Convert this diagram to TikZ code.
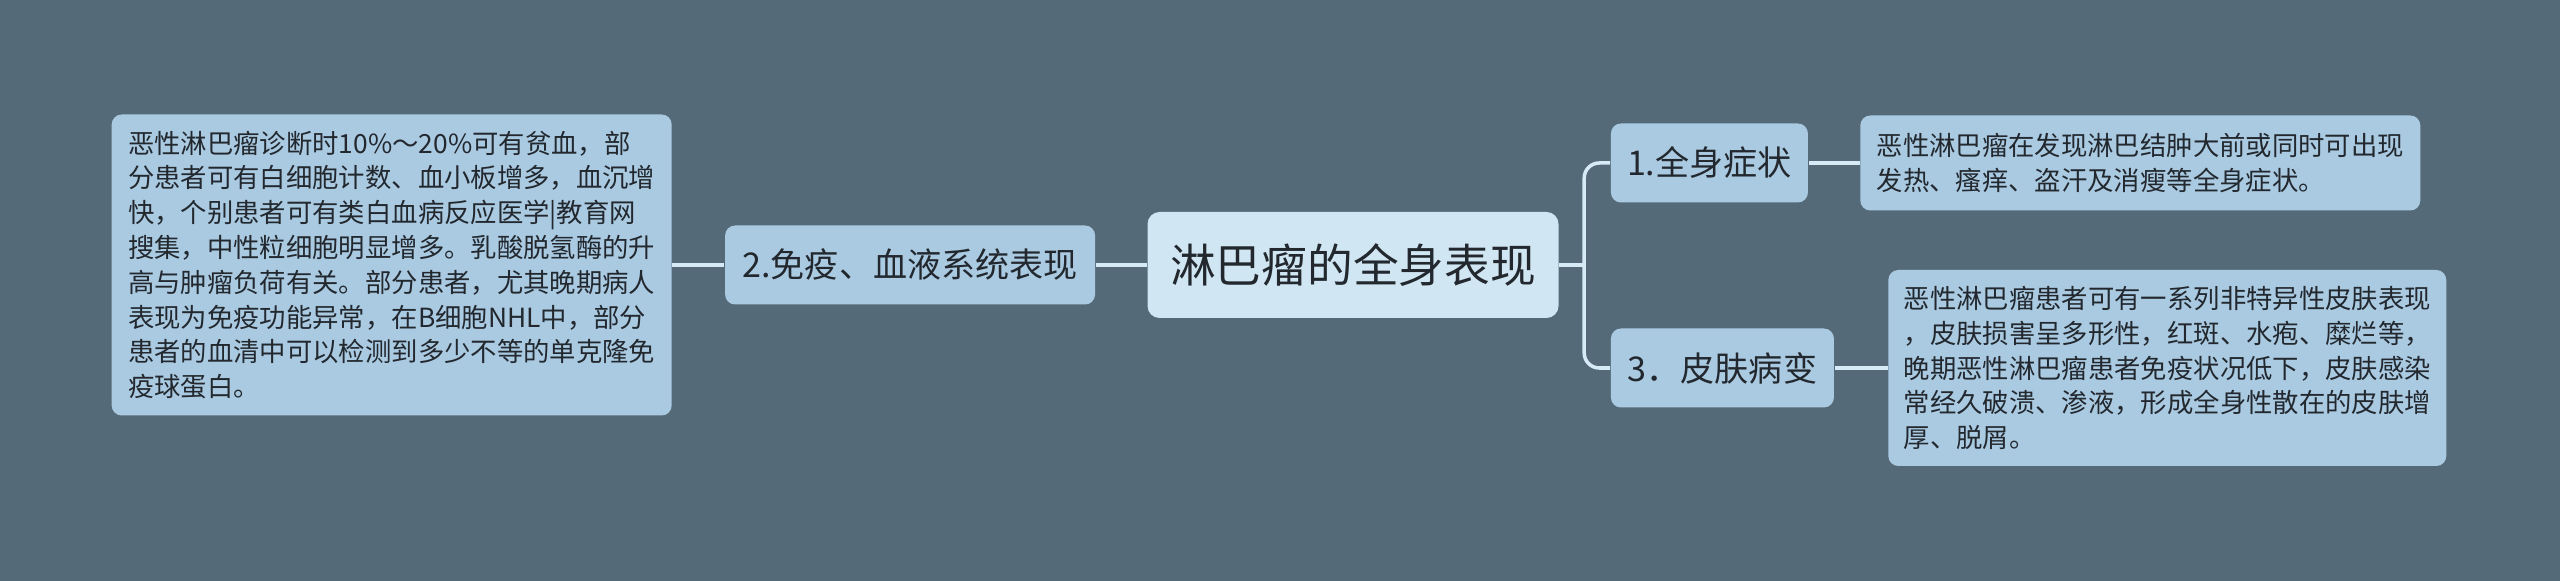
\documentclass[tikz,border=0pt]{standalone}
\usepackage{fontspec}
\setmainfont{Noto Sans CJK SC}
\usepackage{tikz}
\usetikzlibrary{positioning}
\definecolor{bgcol}{RGB}{85,106,120}
\definecolor{rootcol}{RGB}{208,230,242}
\definecolor{topiccol}{RGB}{170,202,226}
\definecolor{linkcol}{RGB}{214,235,246}
\definecolor{txtcol}{RGB}{34,40,46}

\begin{document}
\begin{tikzpicture}[
	root/.style={rectangle, rounded corners=0.12cm, fill=rootcol, text=txtcol,
		font=\fontsize{13}{16}\selectfont, minimum width=4.11cm, minimum height=1.06cm},
	topic/.style={rectangle, rounded corners=0.1cm, fill=topiccol, text=txtcol,
		font=\fontsize{9.7}{12}\selectfont, minimum height=0.79cm, inner xsep=0.1cm},
	leaf/.style={rectangle, rounded corners=0.1cm, fill=topiccol, text=txtcol, align=left,
		font=\fontsize{7.5}{9.9}\selectfont, inner xsep=0.12cm, inner ysep=0.08cm},
	link/.style={draw=linkcol, line width=1pt}]

	\useasboundingbox[fill=bgcol] (0,0) rectangle (25.6,-5.81);

	\node [root] (root) at (13.53,-2.65) {淋巴瘤的全身表现};

	% left branch
	\node [topic, minimum width=3.7cm, left=0.51cm of root] (immune) {2.免疫、血液系统表现};
	\node [leaf, minimum width=5.6cm, minimum height=3.01cm, left=0.52cm of immune] (immunetxt)
		{恶性淋巴瘤诊断时10\%～20\%可有贫血，部\\
		 分患者可有白细胞计数、血小板增多，血沉增\\
		 快，个别患者可有类白血病反应医学|教育网\\
		 搜集，中性粒细胞明显增多。乳酸脱氢酶的升\\
		 高与肿瘤负荷有关。部分患者，尤其晚期病人\\
		 表现为免疫功能异常，在B细胞NHL中，部分\\
		 患者的血清中可以检测到多少不等的单克隆免\\
		 疫球蛋白。};

	% right branch
	\coordinate [right=0.25cm of root] (fork);
	\node [topic, minimum width=1.97cm, right=0.51cm of root, yshift=1.02cm] (general) {1.全身症状};
	\node [leaf, minimum width=5.6cm, minimum height=0.95cm, right=0.51cm of general] (generaltxt)
		{恶性淋巴瘤在发现淋巴结肿大前或同时可出现\\
		 发热、瘙痒、盗汗及消瘦等全身症状。};
	\node [topic, minimum width=2.23cm, right=0.51cm of root, yshift=-1.03cm] (skin) {3．皮肤病变};
	\node [leaf, minimum width=5.58cm, minimum height=1.96cm, right=0.53cm of skin] (skintxt)
		{恶性淋巴瘤患者可有一系列非特异性皮肤表现\\
		 ，皮肤损害呈多形性，红斑、水疱、糜烂等，\\
		 晚期恶性淋巴瘤患者免疫状况低下，皮肤感染\\
		 常经久破溃、渗液，形成全身性散在的皮肤增\\
		 厚、脱屑。};

	\draw [link] (root.west) -- (immune.east);
	\draw [link] (immune.west) -- (immunetxt.east);
	\draw [link] (root.east) -- (fork);
	\draw [link, rounded corners=0.15cm] (fork) |- (general.west);
	\draw [link, rounded corners=0.15cm] (fork) |- (skin.west);
	\draw [link] (general.east) -- (generaltxt.west);
	\draw [link] (skin.east) -- (skintxt.west);
\end{tikzpicture}
\end{document}
